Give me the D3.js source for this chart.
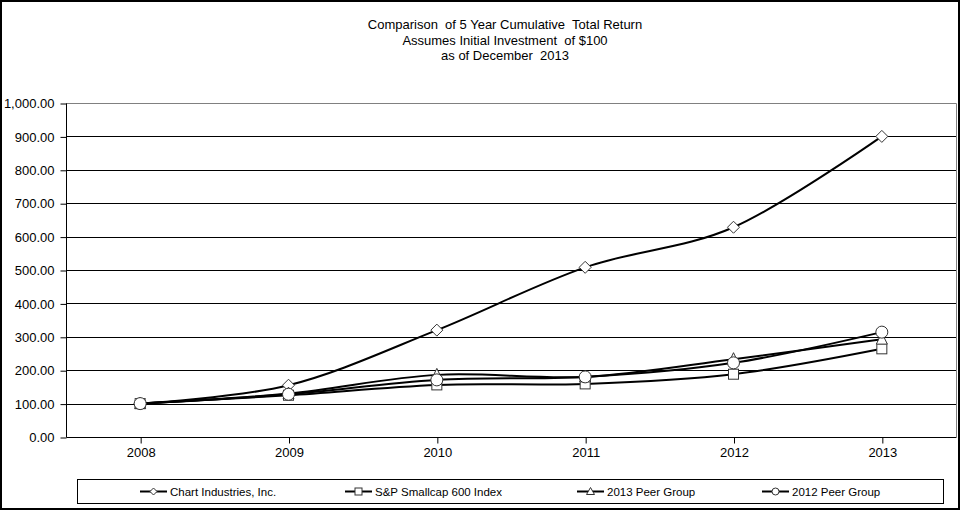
<!DOCTYPE html>
<html><head><meta charset="utf-8">
<script src="https://cdn.jsdelivr.net/npm/d3@7"></script>
<style>body{margin:0;background:#fff}svg{display:block}text{font-family:"Liberation Sans",Arial,sans-serif;fill:#000}</style>
</head><body>
<svg id="c" width="961" height="511"></svg>
<script>
const years = ["2008","2009","2010","2011","2012","2013"];
const chartIndustries = [100, 155, 320, 508, 628, 900];
const spSmallcap600 = [100, 125, 156, 159, 188, 264];
const peer2013 = [100, 130, 186, 180, 233, 293];
const peer2012 = [100, 128, 171, 180, 222, 314];
const seriesNames = ["Chart Industries, Inc.", "S&P Smallcap 600 Index", "2013 Peer Group", "2012 Peer Group"];
const seriesMarkers = ["diamond", "square", "triangle", "circle"];
const yTicks = [0,100,200,300,400,500,600,700,800,900,1000];
const titleLines = ["Comparison  of 5 Year Cumulative  Total Return", "Assumes Initial Investment  of $100", "as of December  2013"];

const seriesData = [chartIndustries, spSmallcap600, peer2013, peer2012];
const svg = d3.select("#c");
const L = 66, R = 956, T = 103, B = 437;

svg.append("rect").attr("x",1).attr("y",1).attr("width",958).attr("height",508)
  .attr("fill","#fff").attr("stroke","#000").attr("stroke-width",2);

const x = d3.scalePoint().domain(years).range([L, R]).padding(0.5);
const y = d3.scaleLinear().domain([0,1000]).range([B, T]);

// title
svg.append("g").selectAll("text").data(titleLines).join("text")
  .attr("x", 505).attr("y",(d,i)=>29+i*15.5).attr("text-anchor","middle")
  .attr("font-size","13px").style("white-space","pre").text(d=>d);

// gridlines
svg.append("g").selectAll("line").data(yTicks.filter(v=>v>0 && v<1000)).join("line")
  .attr("x1",L).attr("x2",R).attr("y1",d=>Math.round(y(d))+0.5).attr("y2",d=>Math.round(y(d))+0.5)
  .attr("stroke","#000").attr("stroke-width",1);
// plot border top/right gray
svg.append("path").attr("d",`M${L},${T+0.5}H${R+0.5}V${B}`).attr("fill","none").attr("stroke","#808080").attr("stroke-width",1);

// y axis
const yAxis = d3.axisLeft(y).tickValues(yTicks).tickSize(6).tickFormat(d3.format(",.2f"));
const gy = svg.append("g").attr("transform",`translate(${L+0.5},0.5)`).call(yAxis);
gy.selectAll("text").attr("font-size","13px").attr("font-family","Liberation Sans, Arial, sans-serif").attr("fill","#000").attr("dx","-3");
gy.selectAll("line,path").attr("stroke","#000");
gy.select(".domain").attr("d",`M0,${T}V${B}`);

// x axis
const xAxis = d3.axisBottom(x).tickSize(6).tickSizeOuter(0);
const gx = svg.append("g").attr("transform",`translate(0.5,${B+0.5})`).call(xAxis);
gx.selectAll("text").attr("font-size","13px").attr("font-family","Liberation Sans, Arial, sans-serif").attr("fill","#000").attr("y",19.5).attr("dy",0);
gx.selectAll("line,path").attr("stroke","#000");
gx.select(".domain").attr("d",`M${L},0H${R}`);

function drawMarker(g, type, cx, cy){
  if(type==="diamond"){
    g.append("path").attr("d",`M${cx},${cy-6}L${cx+6},${cy}L${cx},${cy+6}L${cx-6},${cy}Z`);
  } else if(type==="square"){
    g.append("rect").attr("x",cx-5).attr("y",cy-5).attr("width",10).attr("height",10);
  } else if(type==="triangle"){
    g.append("path").attr("d",`M${cx},${cy-6.5}L${cx+5.5},${cy+5}L${cx-5.5},${cy+5}Z`);
  } else {
    g.append("circle").attr("cx",cx).attr("cy",cy).attr("r",6);
  }
}

const line = d3.line().x((d,i)=>x(years[i])).y(d=>y(d)).curve(d3.curveCatmullRom.alpha(0));
seriesData.forEach((vals, si)=>{
  const g = svg.append("g");
  g.append("path").attr("d", line(vals)).attr("fill","none").attr("stroke","#000").attr("stroke-width",2);
  const mg = g.append("g").attr("fill","#fff").attr("stroke","#333").attr("stroke-width",1);
  vals.forEach((v,i)=>drawMarker(mg, seriesMarkers[si], x(years[i]), y(v)));
});

// legend
svg.append("rect").attr("x",77.5).attr("y",479.5).attr("width",866).attr("height",24)
  .attr("fill","#fff").attr("stroke","#000").attr("stroke-width",1);
const legX = [140, 345, 577, 762];
seriesNames.forEach((n,i)=>{
  const g = svg.append("g");
  g.append("line").attr("x1",legX[i]).attr("x2",legX[i]+27).attr("y1",491.5).attr("y2",491.5).attr("stroke","#000").attr("stroke-width",2);
  const mg = g.append("g").attr("fill","#fff").attr("stroke","#333").attr("stroke-width",1);
  const cx = legX[i]+13.5, cy = 491.5;
  if(seriesMarkers[i]==="diamond") mg.append("path").attr("d",`M${cx},${cy-3.5}L${cx+3.5},${cy}L${cx},${cy+3.5}L${cx-3.5},${cy}Z`);
  else if(seriesMarkers[i]==="square") mg.append("rect").attr("x",cx-3.5).attr("y",cy-3.5).attr("width",7).attr("height",7);
  else if(seriesMarkers[i]==="triangle") mg.append("path").attr("d",`M${cx},${cy-4}L${cx+4},${cy+3}L${cx-4},${cy+3}Z`);
  else mg.append("circle").attr("cx",cx).attr("cy",cy).attr("r",3.5);
  g.append("text").attr("x",legX[i]+30).attr("y",495.5).attr("font-size","11.5px").text(n);
});
</script>
</body></html>
